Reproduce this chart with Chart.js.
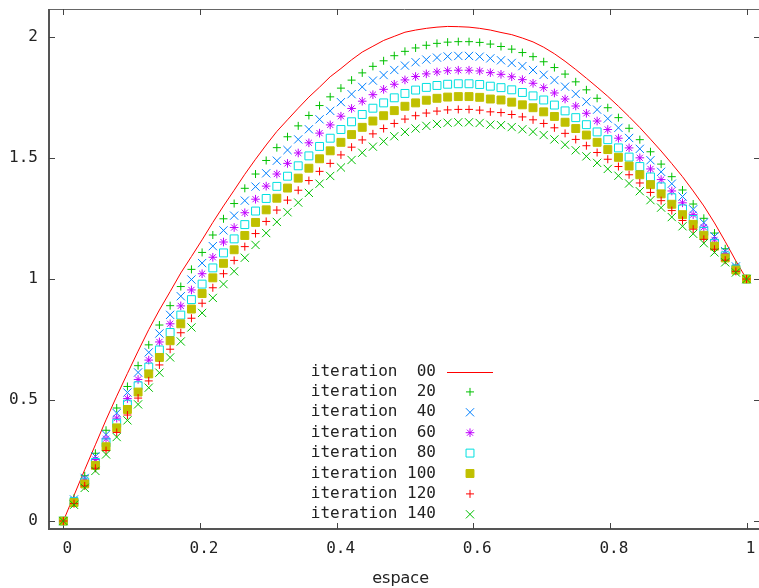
<!DOCTYPE html>
<html>
<head>
<meta charset="utf-8">
<title>espace</title>
<script src="https://cdn.jsdelivr.net/npm/chart.js@4.4.1/dist/chart.umd.min.js"></script>
<style>
  html, body { margin: 0; padding: 0; background: #fff; }
  canvas { display: block; }
</style>
</head>
<body>
<canvas id="plot" width="759" height="588"></canvas>
<script>
// grid points along x (65 nodes)
const espace = [
  0, 0.0156, 0.0313, 0.0469, 0.0625, 0.0781, 0.0938, 0.1094, 0.125, 0.1406, 0.1563, 0.1719, 0.1875,
  0.2031, 0.2188, 0.2344, 0.25, 0.2656, 0.2813, 0.2969, 0.3125, 0.3281, 0.3438, 0.3594, 0.375, 0.3906,
  0.4063, 0.4219, 0.4375, 0.4531, 0.4688, 0.4844, 0.5, 0.5156, 0.5313, 0.5469, 0.5625, 0.5781, 0.5938,
  0.6094, 0.625, 0.6406, 0.6563, 0.6719, 0.6875, 0.7031, 0.7188, 0.7344, 0.75, 0.7656, 0.7813, 0.7969,
  0.8125, 0.8281, 0.8438, 0.8594, 0.875, 0.8906, 0.9063, 0.9219, 0.9375, 0.9531, 0.9688, 0.9844, 1
];

const iter00 = [
  0, 0.106, 0.212, 0.315, 0.418, 0.516, 0.610, 0.702, 0.791, 0.872, 0.948, 1.025, 1.093,
  1.162, 1.234, 1.302, 1.367, 1.433, 1.495, 1.554, 1.610, 1.658, 1.706, 1.752, 1.793, 1.836,
  1.870, 1.906, 1.938, 1.962, 1.986, 2.003, 2.020, 2.029, 2.036, 2.041, 2.044, 2.043, 2.041,
  2.036, 2.029, 2.019, 2.010, 1.996, 1.980, 1.958, 1.931, 1.900, 1.866, 1.830, 1.793, 1.755,
  1.714, 1.671, 1.626, 1.578, 1.529, 1.477, 1.423, 1.364, 1.302, 1.232, 1.155, 1.075, 1
];
const iter20 = [
  0, 0.094, 0.187, 0.280, 0.375, 0.467, 0.556, 0.642, 0.728, 0.810, 0.890, 0.969, 1.040,
  1.110, 1.182, 1.249, 1.312, 1.375, 1.434, 1.490, 1.543, 1.588, 1.633, 1.676, 1.717, 1.753,
  1.789, 1.822, 1.852, 1.879, 1.902, 1.923, 1.941, 1.955, 1.966, 1.974, 1.979, 1.981, 1.981,
  1.978, 1.971, 1.961, 1.950, 1.936, 1.919, 1.898, 1.874, 1.847, 1.815, 1.782, 1.747, 1.708,
  1.667, 1.623, 1.576, 1.526, 1.475, 1.423, 1.368, 1.310, 1.251, 1.190, 1.125, 1.057, 1
];
const iter40 = [
  0, 0.089, 0.178, 0.267, 0.357, 0.446, 0.531, 0.614, 0.697, 0.775, 0.852, 0.929, 0.998,
  1.066, 1.136, 1.201, 1.262, 1.324, 1.382, 1.437, 1.489, 1.533, 1.577, 1.619, 1.660, 1.695,
  1.731, 1.764, 1.794, 1.820, 1.843, 1.864, 1.882, 1.896, 1.907, 1.915, 1.920, 1.922, 1.922,
  1.919, 1.912, 1.904, 1.893, 1.880, 1.864, 1.844, 1.822, 1.795, 1.765, 1.733, 1.700, 1.663,
  1.625, 1.583, 1.538, 1.491, 1.443, 1.394, 1.341, 1.288, 1.233, 1.176, 1.115, 1.052, 1
];
const iter60 = [
  0, 0.085, 0.169, 0.254, 0.340, 0.425, 0.506, 0.585, 0.665, 0.740, 0.815, 0.889, 0.955,
  1.022, 1.090, 1.153, 1.213, 1.274, 1.330, 1.384, 1.434, 1.478, 1.521, 1.563, 1.603, 1.637,
  1.673, 1.705, 1.735, 1.762, 1.784, 1.805, 1.823, 1.837, 1.848, 1.856, 1.861, 1.863, 1.863,
  1.860, 1.853, 1.846, 1.836, 1.824, 1.809, 1.791, 1.769, 1.744, 1.715, 1.685, 1.653, 1.618,
  1.582, 1.542, 1.501, 1.455, 1.411, 1.364, 1.315, 1.266, 1.214, 1.162, 1.105, 1.046, 1
];
const iter80 = [
  0, 0.080, 0.161, 0.242, 0.323, 0.404, 0.483, 0.559, 0.636, 0.707, 0.779, 0.851, 0.915,
  0.979, 1.046, 1.108, 1.166, 1.225, 1.281, 1.333, 1.383, 1.425, 1.468, 1.509, 1.548, 1.582,
  1.618, 1.650, 1.680, 1.706, 1.728, 1.749, 1.767, 1.781, 1.792, 1.800, 1.805, 1.807, 1.807,
  1.804, 1.797, 1.791, 1.782, 1.771, 1.757, 1.740, 1.719, 1.695, 1.667, 1.638, 1.608, 1.576,
  1.542, 1.504, 1.465, 1.422, 1.381, 1.336, 1.290, 1.246, 1.197, 1.148, 1.096, 1.041, 1
];
const iter100 = [
  0, 0.076, 0.153, 0.230, 0.307, 0.385, 0.461, 0.533, 0.608, 0.676, 0.745, 0.815, 0.876,
  0.940, 1.005, 1.065, 1.121, 1.180, 1.234, 1.286, 1.334, 1.376, 1.417, 1.458, 1.497, 1.530,
  1.565, 1.597, 1.627, 1.653, 1.675, 1.696, 1.714, 1.728, 1.739, 1.747, 1.752, 1.754, 1.754,
  1.751, 1.744, 1.740, 1.731, 1.720, 1.708, 1.691, 1.672, 1.648, 1.622, 1.595, 1.565, 1.535,
  1.503, 1.467, 1.431, 1.390, 1.352, 1.309, 1.266, 1.226, 1.181, 1.136, 1.087, 1.037, 1
];
const iter120 = [
  0, 0.072, 0.145, 0.218, 0.291, 0.366, 0.438, 0.508, 0.579, 0.645, 0.710, 0.778, 0.838,
  0.900, 0.964, 1.022, 1.077, 1.134, 1.188, 1.238, 1.285, 1.326, 1.367, 1.407, 1.445, 1.478,
  1.513, 1.545, 1.575, 1.600, 1.622, 1.643, 1.661, 1.675, 1.686, 1.694, 1.699, 1.701, 1.701,
  1.698, 1.691, 1.688, 1.680, 1.670, 1.658, 1.643, 1.625, 1.602, 1.577, 1.551, 1.523, 1.495,
  1.465, 1.431, 1.397, 1.358, 1.324, 1.283, 1.242, 1.206, 1.164, 1.123, 1.078, 1.032, 1
];
const iter140 = [
  0, 0.067, 0.137, 0.207, 0.275, 0.347, 0.416, 0.482, 0.551, 0.613, 0.676, 0.742, 0.800,
  0.860, 0.922, 0.979, 1.032, 1.088, 1.141, 1.190, 1.236, 1.276, 1.316, 1.356, 1.394, 1.426,
  1.461, 1.492, 1.522, 1.547, 1.569, 1.590, 1.608, 1.622, 1.633, 1.641, 1.646, 1.648, 1.648,
  1.645, 1.638, 1.636, 1.628, 1.619, 1.609, 1.595, 1.577, 1.555, 1.532, 1.507, 1.480, 1.455,
  1.427, 1.395, 1.363, 1.326, 1.295, 1.256, 1.218, 1.187, 1.148, 1.110, 1.069, 1.027, 1
];

const labels = [
  "iteration  00", "iteration  20", "iteration  40", "iteration  60",
  "iteration  80", "iteration 100", "iteration 120", "iteration 140"
];
const xTicks = [0, 0.2, 0.4, 0.6, 0.8, 1];
const yTicks = [0, 0.5, 1, 1.5, 2];

const series = [iter00, iter20, iter40, iter60, iter80, iter100, iter120, iter140];

// gnuplot-like line types: first one is a plain line, the rest are point symbols
const styles = [
  { color: '#ff0000', line: true },
  { color: '#00c000', shape: 'cross', r: 4 },
  { color: '#0080ff', shape: 'crossRot', r: 5.8 },
  { color: '#c000ff', shape: 'star', r: 4.3 },
  { color: '#00e0e0', shape: 'rect', r: 5.6, hollow: true },
  { color: '#c0c000', shape: 'rect', r: 5.6 },
  { color: '#ff0000', shape: 'cross', r: 4 },
  { color: '#00c000', shape: 'crossRot', r: 5.8 }
];

const datasets = series.map((vals, k) => {
  const st = styles[k];
  const fill = st.hollow ? 'rgba(0,0,0,0)' : st.color;
  return {
    label: labels[k],
    data: vals.map((v, i) => ({ x: espace[i], y: v })),
    showLine: !!st.line,
    tension: 0,
    borderColor: st.color,
    borderWidth: 1,
    backgroundColor: fill,
    pointStyle: st.shape || 'circle',
    pointRadius: st.line ? 0 : st.r,
    pointHoverRadius: st.line ? 0 : st.r,
    pointBorderWidth: 1,
    pointBorderColor: st.color,
    pointBackgroundColor: fill,
    clip: false,
    order: series.length - k
  };
});

const monoFont = { family: '"DejaVu Sans Mono", "Liberation Mono", monospace', size: 16 };

// drop the extra room Chart.js reserves for edge labels
function noEdgePadding(s) {
  s.paddingTop = 0;
  s.paddingBottom = 0;
  s.paddingLeft = 0;
  s.paddingRight = 0;
}

// white page, then border and inward tick marks; the right border sits just past the canvas edge
const frame = {
  id: 'frame',
  beforeDraw(chart) {
    const ctx = chart.ctx;
    ctx.save();
    ctx.fillStyle = '#fff';
    ctx.fillRect(0, 0, chart.width, chart.height);
    ctx.restore();
  },
  beforeDatasetsDraw(chart) {
    const { ctx, chartArea: a, scales } = chart;
    const right = chart.width + 1;
    ctx.save();
    ctx.strokeStyle = '#666';
    ctx.lineWidth = 1;
    ctx.beginPath();
    ctx.moveTo(a.left, a.top + 0.5);
    ctx.lineTo(right, a.top + 0.5);
    ctx.stroke();

    ctx.strokeStyle = '#555';
    ctx.lineWidth = 2;
    ctx.beginPath();
    ctx.moveTo(a.left, a.top);
    ctx.lineTo(a.left, a.bottom);
    ctx.lineTo(right, a.bottom);
    ctx.stroke();

    ctx.strokeStyle = '#444';
    ctx.lineWidth = 1;
    ctx.beginPath();
    xTicks.forEach(v => {
      const px = Math.round(scales.x.getPixelForValue(v)) + 0.5;
      ctx.moveTo(px, a.bottom); ctx.lineTo(px, a.bottom - 6);
      ctx.moveTo(px, a.top); ctx.lineTo(px, a.top + 6);
    });
    yTicks.forEach(v => {
      const py = Math.round(scales.y.getPixelForValue(v)) + 0.5;
      ctx.moveTo(a.left, py); ctx.lineTo(a.left + 6, py);
      ctx.moveTo(right, py); ctx.lineTo(right - 6, py);
    });
    ctx.stroke();
    ctx.restore();
  }
};

// key block inside the plot, text right-aligned with the sample to its right
const key = {
  id: 'key',
  afterDatasetsDraw(chart) {
    const ctx = chart.ctx;
    const drawPoint = Chart.helpers && Chart.helpers.drawPoint;
    ctx.save();
    chart.data.datasets.forEach((ds, k) => {
      const yy = 371.5 + k * 20.4;
      ctx.font = '16px "DejaVu Sans Mono", "Liberation Mono", monospace';
      ctx.fillStyle = '#222';
      ctx.textAlign = 'right';
      ctx.textBaseline = 'middle';
      ctx.fillText(ds.label, 436, yy);

      ctx.strokeStyle = ds.borderColor;
      ctx.fillStyle = ds.pointBackgroundColor;
      ctx.lineWidth = 1;
      if (ds.showLine) {
        ctx.beginPath();
        ctx.moveTo(447, Math.round(yy) + 0.5);
        ctx.lineTo(493, Math.round(yy) + 0.5);
        ctx.stroke();
      } else if (drawPoint) {
        drawPoint(ctx, { pointStyle: ds.pointStyle, radius: ds.pointRadius, borderWidth: 1, rotation: 0 }, 470, yy);
      }
    });
    ctx.restore();
  }
};

new Chart(document.getElementById('plot'), {
  type: 'scatter',
  data: { datasets },
  options: {
    responsive: false,
    animation: false,
    devicePixelRatio: 1,
    layout: { padding: { top: 9, right: 0, bottom: 0, left: 0 } },
    plugins: {
      legend: { display: false },
      tooltip: { enabled: false }
    },
    scales: {
      x: {
        type: 'linear',
        min: -0.021,
        max: 1.0083,
        afterBuildTicks: s => { s.ticks = xTicks.map(v => ({ value: v })); },
        afterFit: s => { s.height = 59; noEdgePadding(s); },
        grid: { display: false, drawTicks: false },
        border: { display: false },
        ticks: {
          padding: 10,
          labelOffset: 4,
          color: '#222',
          font: monoFont,
          maxRotation: 0,
          callback: v => String(v)
        },
        title: {
          display: true,
          text: 'espace',
          color: '#222',
          font: { family: '"DejaVu Sans", sans-serif', size: 16 },
          padding: { top: 0, bottom: 0 }
        }
      },
      y: {
        type: 'linear',
        min: -0.033,
        max: 2.116,
        afterBuildTicks: s => { s.ticks = yTicks.map(v => ({ value: v })); },
        afterFit: s => { s.width = 49; noEdgePadding(s); },
        grid: { display: false, drawTicks: false },
        border: { display: false },
        ticks: {
          padding: 11,
          color: '#222',
          font: monoFont,
          callback: v => String(v)
        }
      }
    }
  },
  plugins: [frame, key]
});
</script>
</body>
</html>
